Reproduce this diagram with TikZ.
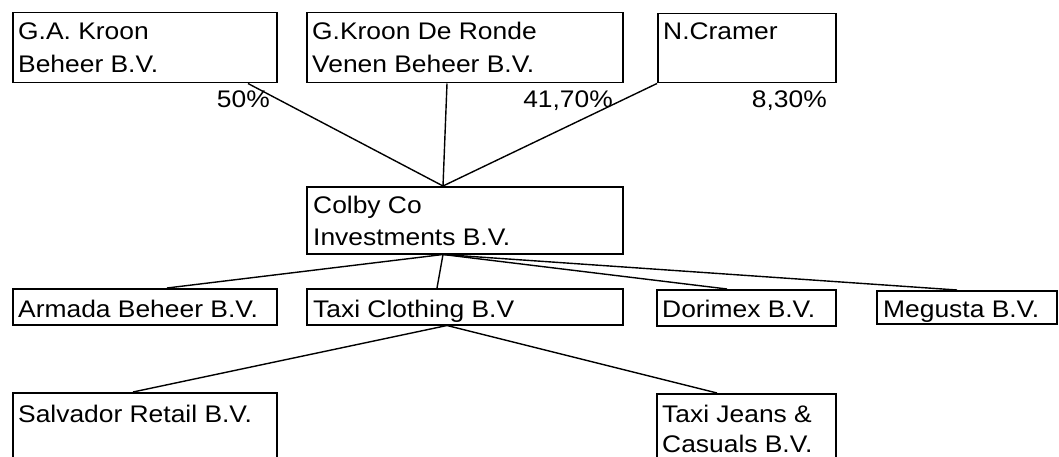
\documentclass[tikz,border=0pt]{standalone}
\usepackage{fontspec}
\setmainfont{Liberation Sans}[FakeStretch=1.1]
\usetikzlibrary{calc}
\begin{document}
\begin{tikzpicture}[x=1pt,y=1pt,
  box/.style={draw,line width=1.5pt,inner sep=0pt,anchor=north west},
  txt/.style={inner sep=0pt,anchor=base west,font=\fontsize{24}{33}\selectfont},
  pct/.style={inner sep=0pt,anchor=base east,font=\fontsize{24}{33}\selectfont},
  link/.style={line width=1.4pt}]
\clip (0,0) rectangle (1059,-457);
\fill[white] (0,0) rectangle (1059,-457);
% top row
\node[box,minimum width=264pt,minimum height=70pt] (gak) at (12,-12) {};
\node[box,minimum width=316pt,minimum height=70pt] (gkr) at (306,-12) {};
\node[box,minimum width=178pt,minimum height=69pt] (ncr) at (657,-13) {};
\node[txt] (gak1) at (18,-40) {G.A. Kroon};
\node[txt] (gak2) at (18,-73) {Beheer B.V.};
\node[txt] (gkr1) at (312,-40) {G.Kroon De Ronde};
\node[txt] (gkr2) at (312,-73) {Venen Beheer B.V.};
\node[txt] (ncr1) at (663,-40) {N.Cramer};
\node[pct] (p50) at (270,-108) {50\%};
\node[pct] (p417) at (613,-108) {41,70\%};
\node[pct] (p83) at (827,-108) {8,30\%};
% Colby
\node[box,minimum width=316pt,minimum height=67pt] (col) at (306,-186) {};
\node[txt] (col1) at (313,-213) {Colby Co};
\node[txt] (col2) at (313,-245) {Investments B.V.};
% second row
\node[box,minimum width=264pt,minimum height=36pt] (arm) at (12,-288) {};
\node[box,minimum width=316pt,minimum height=36pt] (txc) at (306,-288) {};
\node[box,minimum width=179pt,minimum height=36pt] (dor) at (656,-289) {};
\node[box,minimum width=180pt,minimum height=33pt] (meg) at (876,-290) {};
\node[txt] (arm1) at (18,-317) {Armada Beheer B.V.};
\node[txt] (txc1) at (313,-317) {Taxi Clothing B.V};
\node[txt] (dor1) at (662,-317) {Dorimex B.V.};
\node[txt] (meg1) at (883,-317) {Megusta B.V.};
% third row
\node[box,minimum width=264pt,minimum height=80pt] (sal) at (12,-392) {};
\node[box,minimum width=179pt,minimum height=80pt] (txj) at (656,-393) {};
\node[txt] (sal1) at (18,-422) {Salvador Retail B.V.};
\node[txt] (txj1) at (662,-422) {Taxi Jeans \&};
\node[txt] (txj2) at (662,-452) {Casuals B.V.};
% connectors
\coordinate (jt) at ($(col.north west)+(137,0)$);
\coordinate (jb) at ($(col.south west)+(137,0)$);
\coordinate (jc) at ($(txc.south west)+(141,0)$);
\draw[link] ($(gak.south west)+(236,0)$) -- (jt);
\draw[link] ($(gkr.south west)+(141,0)$) -- (jt);
\draw[link] (ncr.south west) -- (jt);
\draw[link] (jb) -- ($(arm.north west)+(155,0)$);
\draw[link] (jb) -- ($(txc.north west)+(131,0)$);
\draw[link] (jb) -- ($(dor.north west)+(71,0)$);
\draw[link] (jb) -- ($(meg.north west)+(81,0)$);
\draw[link] (jc) -- ($(sal.north west)+(121,0)$);
\draw[link] (jc) -- ($(txj.north west)+(61,0)$);
\end{tikzpicture}
\end{document}
